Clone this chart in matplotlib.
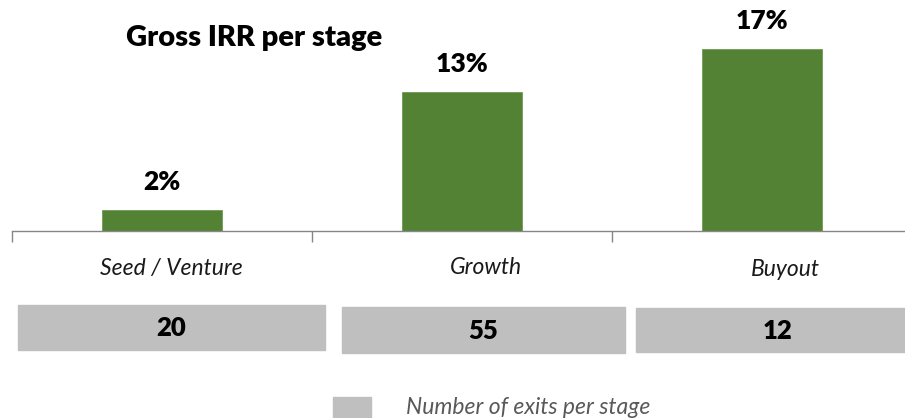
import matplotlib
matplotlib.use("Agg")
import matplotlib.pyplot as plt
from matplotlib.patches import Rectangle

# Data
stages = ["Seed / Venture", "Growth", "Buyout"]
gross_irr = [2, 13, 17]          # percent
exit_counts = [20, 55, 12]
legend_label = "Number of exits per stage"
title_text = "Gross IRR per stage"

GREEN = "#548235"
GREY_BOX = "#BFBFBF"
AXIS_GREY = "#868686"
FONT = ["Lato", "DejaVu Sans"]
HEAVY = 800

W, H = 905, 418
fig = plt.figure(figsize=(W / 100, H / 100), dpi=100)
plt.rcParams["font.family"] = FONT


def px(x0, y0, x1, y1):
    """Convert pixel box (top-left origin) into figure fractions."""
    return [x0 / W, 1 - y1 / H, (x1 - x0) / W, (y1 - y0) / H]


# Bar panel: baseline at y=231 px, category spacing 300 px
ax = fig.add_axes(px(12, 0, 905, 231))
xs = list(range(len(stages)))
ax.bar(xs, gross_irr, width=0.4, color=GREEN, edgecolor="#6f9a52", linewidth=0.6, zorder=2)
ax.set_xlim(-0.5, 2.477)
ax.set_ylim(0, 21.6)

for x, v in zip(xs, gross_irr):
    ax.annotate(f"{v}%", (x, v), xytext=(0, 20), textcoords="offset points",
                ha="center", va="center", fontsize=19, fontweight=HEAVY, color="black")

for s in ["top", "right", "left"]:
    ax.spines[s].set_visible(False)
ax.spines["bottom"].set_color(AXIS_GREY)
ax.spines["bottom"].set_linewidth(1.0)
ax.set_yticks([])
ax.set_xticks([-0.5, 0.5, 1.5])
ax.set_xticklabels([])
ax.tick_params(axis="x", direction="out", length=8, width=1.0, color=AXIS_GREY)

# Category labels beneath the axis
label_shift = [0.03, 0.08, 0.077]
label_drop = [37, 37, 38]
for x, name, dx, dy in zip(xs, stages, label_shift, label_drop):
    ax.annotate(name, (x + dx, 0), xytext=(0, -dy * 0.72), textcoords="offset points",
                ha="center", va="center", fontsize=16.5, fontstyle="italic", color="#1a1a1a",
                annotation_clip=False)

fig.text(254 / W, 1 - 38 / H, title_text,
         ha="center", va="center", fontsize=21, fontweight=HEAVY, color="black")

# Exit-count boxes
box_px = [(18, 305, 325, 350), (342, 307, 625, 353), (636, 308, 905, 352)]
num_shift = [0, 0, 7]
for (x0, y0, x1, y1), n, dx in zip(box_px, exit_counts, num_shift):
    fig.patches.append(Rectangle((x0 / W, 1 - y1 / H), (x1 - x0) / W, (y1 - y0) / H,
                                 transform=fig.transFigure, color=GREY_BOX, zorder=1))
    fig.text(((x0 + x1) / 2 + dx) / W, 1 - ((y0 + y1) / 2 + 1) / H, str(n),
             ha="center", va="center", fontsize=18.5, fontweight=HEAVY, color="black")

# Legend
fig.patches.append(Rectangle((333 / W, 1 - 418 / H), 38 / W, 21 / H,
                             transform=fig.transFigure, color=GREY_BOX))
fig.text(406 / W, 1 - 407 / H, legend_label, ha="left", va="center",
         fontsize=16.5, fontstyle="italic", color="#595959")

fig.savefig("out.png", dpi=100)
